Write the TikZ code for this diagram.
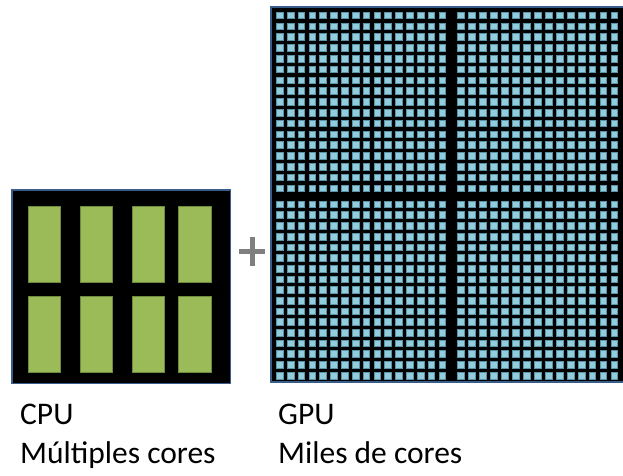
\documentclass[tikz,border=0pt]{standalone}
\usepackage{fontspec}
\setmainfont{Carlito}
\definecolor{boxedge}{HTML}{385D8A}
\definecolor{coregreen}{HTML}{9BBB59}
\definecolor{coreedge}{HTML}{6E8B3D}
\definecolor{gpufill}{HTML}{92CDDD}
\definecolor{gpuedge}{HTML}{5A93A8}
\definecolor{plusgray}{HTML}{7F7F7F}
\begin{document}
\begin{tikzpicture}[x=1pt,y=-1pt,
  chip/.style={fill=black,draw=boxedge,line width=1.5pt},
  cpucore/.style={fill=coregreen,draw=coreedge,line width=1pt},
  gpucore/.style={fill=gpufill,draw=gpuedge,line width=0.5pt},
  label/.style={anchor=base west,inner sep=0pt,font=\fontsize{31.5}{36}\selectfont}]
\useasboundingbox (0,0) rectangle (623,475);
\clip (0,0) rectangle (623,475);
% CPU
\path[chip] (12,190) rectangle (230.7,383.3);
\foreach \cx in {28,80,132,178.5}{
  \path[cpucore] (\cx,206.7) rectangle +(32.5,76);
  \path[cpucore] (\cx,296.7) rectangle +(32.5,76);
}
% plus
\draw[plusgray,line width=5pt] (239.3,251) -- (265,251);
\draw[plusgray,line width=5pt] (252.3,237.3) -- (252.3,265.7);
% GPU
\path[chip] (271,7) rectangle (630,382);
\foreach \i in {0,...,15}{
  \foreach \j in {0,...,16}{
    \path[gpucore] ({276.3+10.83*\i},{12+10.8*\j}) rectangle +(6.7,6.7);
    \path[gpucore] ({276.3+10.83*\i},{201+10.69*\j}) rectangle +(6.7,6.7);
  }
}
\foreach \i in {0,...,14}{
  \foreach \j in {0,...,16}{
    \path[gpucore] ({457.6+10.95*\i},{12+10.8*\j}) rectangle +(6.7,6.7);
    \path[gpucore] ({457.6+10.95*\i},{201+10.69*\j}) rectangle +(6.7,6.7);
  }
}
% labels
\node[label] (cpu) at (20,424.7) {CPU};
\node[label] (cpucores) at (20,463.3) {Múltiples cores};
\node[label] (gpu) at (278,424.7) {GPU};
\node[label] (gpucores) at (278,463.3) {Miles de cores};
\end{tikzpicture}
\end{document}
